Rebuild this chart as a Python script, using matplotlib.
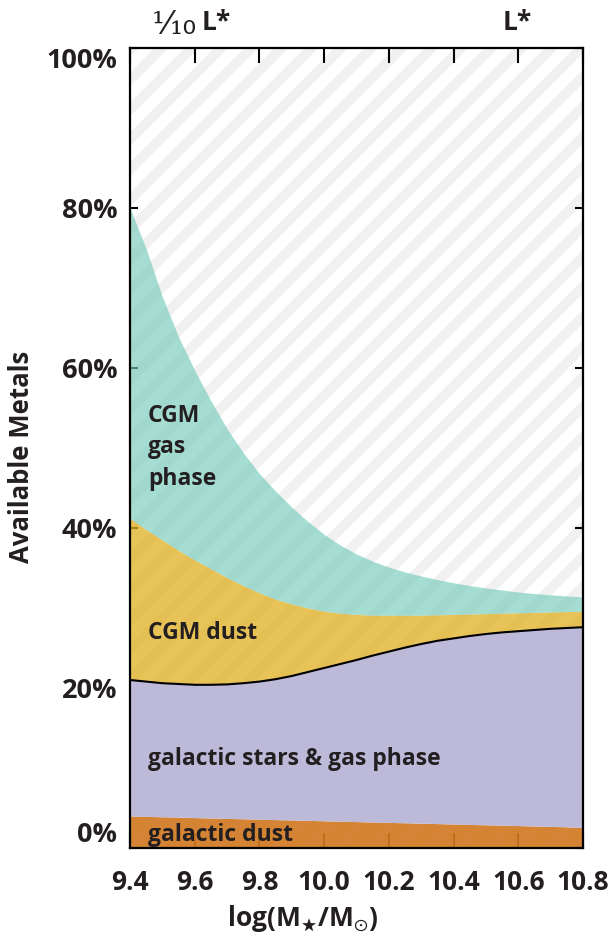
import numpy as np
import matplotlib
matplotlib.use("Agg")
import matplotlib.pyplot as plt
from matplotlib.colors import ListedColormap
from matplotlib.ticker import FixedLocator

plt.rcParams['font.family'] = ['Open Sans', 'DejaVu Sans']
plt.rcParams['mathtext.fontset'] = 'custom'
plt.rcParams['mathtext.rm'] = 'Open Sans'
plt.rcParams['mathtext.bf'] = 'Open Sans:bold'
plt.rcParams['mathtext.fallback'] = 'stixsans'

# ---------------- data (percent of available metals, cumulative boundaries) -------------
log_mstar = [9.40, 9.45, 9.50, 9.55, 9.60, 9.65, 9.70, 9.75, 9.80, 9.85,
             9.90, 9.95, 10.00, 10.05, 10.10, 10.15, 10.20, 10.25, 10.30, 10.35,
             10.40, 10.45, 10.50, 10.55, 10.60, 10.65, 10.70, 10.75, 10.80]

galactic_dust_top = [4.00, 3.95, 3.90, 3.85, 3.80, 3.75, 3.70, 3.65, 3.60, 3.55,
                     3.50, 3.45, 3.40, 3.35, 3.30, 3.25, 3.20, 3.15, 3.10, 3.05,
                     3.00, 2.95, 2.90, 2.85, 2.80, 2.75, 2.70, 2.65, 2.55]

galactic_stars_gas_top = [21.0, 20.8, 20.6, 20.5, 20.4, 20.4, 20.45, 20.6, 20.8, 21.1,
                          21.5, 22.0, 22.5, 23.0, 23.5, 24.05, 24.55, 25.05, 25.5, 25.9,
                          26.2, 26.5, 26.75, 26.95, 27.1, 27.25, 27.4, 27.5, 27.6]

cgm_dust_top = [41.2, 39.8, 38.5, 37.2, 36.0, 34.9, 33.8, 32.8, 31.9, 31.1,
                30.5, 30.0, 29.6, 29.35, 29.2, 29.1, 29.1, 29.1, 29.1, 29.15,
                29.2, 29.25, 29.3, 29.35, 29.4, 29.45, 29.5, 29.55, 29.6]

cgm_gas_top = [80.0, 74.9, 68.9, 63.9, 59.7, 55.9, 52.4, 49.4, 46.8, 44.6,
               42.6, 40.8, 39.2, 37.85, 36.75, 35.85, 35.1, 34.5, 34.0, 33.55,
               33.15, 32.8, 32.5, 32.25, 32.0, 31.8, 31.65, 31.5, 31.4]

x_ticks = [9.4, 9.6, 9.8, 10.0, 10.2, 10.4, 10.6, 10.8]
x_tick_labels = ['9.4', '9.6', '9.8', '10.0', '10.2', '10.4', '10.6', '10.8']
y_ticks = [0, 20, 40, 60, 80, 100]
y_tick_labels = ['0%', '20%', '40%', '60%', '80%', '100%']

# ---------------- figure ----------------
W, H = 613, 939
fig = plt.figure(figsize=(W / 100, H / 100), dpi=100)
ax_l, ax_r, ax_t, ax_b = 130, 583, 48, 848
pos = [ax_l / W, 1 - ax_b / H, (ax_r - ax_l) / W, (ax_b - ax_t) / H]

# striped background
bg = fig.add_axes(pos, zorder=0)
rows, cols = ax_b - ax_t, ax_r - ax_l
rr, cc = np.mgrid[0:rows, 0:cols]
stripes = (((cc + rr + 6) % 30) < 14).astype(float)
bg.imshow(stripes, cmap=ListedColormap(['#ffffff', '#f1f1f1']), aspect='auto',
          interpolation='nearest', extent=[0, 1, 0, 1])
bg.set_axis_off()

ax = fig.add_axes(pos, zorder=1)
ax.patch.set_visible(False)
ax.set_axisbelow(True)

x = np.array(log_mstar)
c_text = '#231f20'

ax.fill_between(x, 0, galactic_dust_top, color='#d17a22', alpha=0.92, lw=0, zorder=1)
ax.fill_between(x, galactic_dust_top, galactic_stars_gas_top, color='#bdbad9', lw=0, zorder=1)
ax.fill_between(x, galactic_stars_gas_top, cgm_dust_top, color='#e0af20', alpha=0.75, lw=0, zorder=1)
ax.fill_between(x, cgm_dust_top, cgm_gas_top, color='#76cbbb', alpha=0.65, lw=0, zorder=1)
ax.plot(x, galactic_stars_gas_top, color='black', lw=1.5, zorder=2)

ax.set_xlim(9.4, 10.8)
ax.set_ylim(0, 100)
ax.xaxis.set_major_locator(FixedLocator(x_ticks))
ax.yaxis.set_major_locator(FixedLocator(y_ticks))
ax.set_xticklabels(x_tick_labels)
ax.set_yticklabels(y_tick_labels)
ax.tick_params(axis='both', which='major', direction='in', top=True, right=True,
               width=1.5, color='black', labelcolor=c_text)
ax.tick_params(axis='x', length=11, pad=15, labelsize=19)
ax.tick_params(axis='y', length=6, pad=9, labelsize=19.5)
for lab in ax.get_xticklabels() + ax.get_yticklabels():
    lab.set_fontweight('bold')
ylabs = ax.get_yticklabels()
ylabs[0].set_va('bottom')
ylabs[-1].set_va('top')
for s in ax.spines.values():
    s.set_linewidth(1.6)
    s.set_zorder(5)

# region labels (axes fraction coordinates)
def fy(py):
    return (ax_b - py) / (ax_b - ax_t)
lx = 18 / (ax_r - ax_l)
lab_kw = dict(transform=ax.transAxes, fontsize=16.5, fontweight='bold', color=c_text,
              va='baseline', ha='left', zorder=6)
ax.text(lx, fy(422), 'CGM', **lab_kw)
ax.text(lx, fy(453), 'gas', **lab_kw)
ax.text(lx, fy(485), 'phase', **lab_kw)
ax.text(lx, fy(639), 'CGM dust', **lab_kw)
ax.text(lx, fy(765), 'galactic stars & gas phase', **lab_kw)
ax.text(lx, fy(841), 'galactic dust', **lab_kw)

# axis titles
fig.text(302 / W, 1 - 918 / H, r'log(M$_{\bigstar}$/M$_{\odot}$)', ha='center', va='center',
         fontsize=19, fontweight='bold', color=c_text)
fig.text(22 / W, 1 - 457 / H, 'Available Metals', rotation=90, ha='center', va='center',
         fontsize=18.5, fontweight='bold', color=c_text)

# top luminosity markers
fig.text(196 / W, 1 - 34 / H, '\u2152', ha='right', va='baseline', fontsize=23,
         family=['DejaVu Serif'], color=c_text)
fig.text(202 / W, 1 - 30 / H, 'L*', ha='left', va='baseline', fontsize=19,
         fontweight='bold', color=c_text)
fig.text(517 / W, 1 - 30 / H, 'L*', ha='center', va='baseline', fontsize=19,
         fontweight='bold', color=c_text)

fig.savefig('out.png', dpi=100)
